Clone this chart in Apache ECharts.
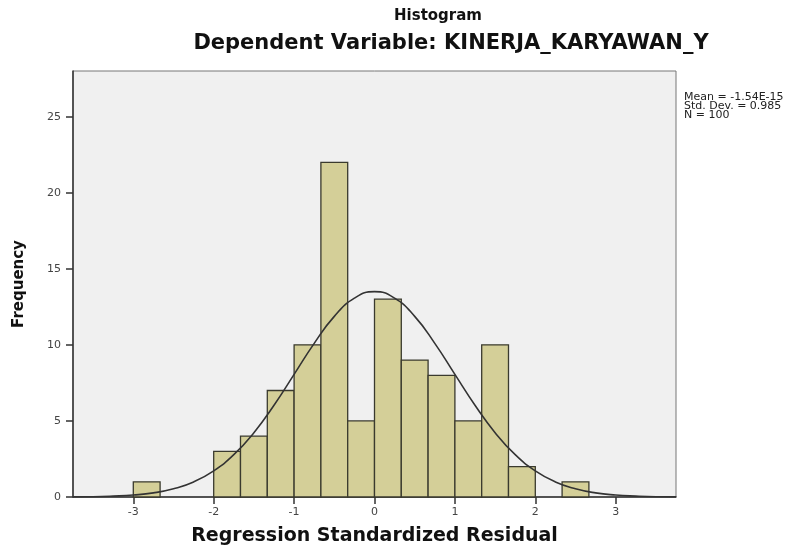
<!DOCTYPE html>
<html>
<head>
<meta charset="utf-8">
<script src="https://cdn.jsdelivr.net/npm/echarts@6/dist/echarts.min.js"></script>
<style>
  html, body { margin: 0; padding: 0; background: #fff; }
  #chart { width: 811px; height: 547px; }
</style>
</head>
<body>
<div id="chart"></div>
<script>
// histogram bins (left edge of each bin, width 1/3)
const binStarts = [-3, -2, -1.6667, -1.3333, -1, -0.6667, -0.3333, 0, 0.3333, 0.6667, 1, 1.3333, 1.6667, 2.3333];
const binWidth = 0.3333;
const counts = [1, 3, 4, 7, 10, 22, 5, 13, 9, 8, 5, 10, 2, 1];

// normal curve
const curveX = [-3.75, -3.5, -3.25, -3, -2.75, -2.5, -2.25, -2, -1.75, -1.5, -1.25, -1, -0.75, -0.5, -0.25, 0,
  0.25, 0.5, 0.75, 1, 1.25, 1.5, 1.75, 2, 2.25, 2.5, 2.75, 3, 3.25, 3.5, 3.75];
const curveY = [0.01, 0.02, 0.06, 0.13, 0.27, 0.54, 0.99, 1.72, 2.78, 4.23, 6.03, 8.06, 10.1, 11.87, 13.07, 13.5,
  13.07, 11.87, 10.1, 8.06, 6.03, 4.23, 2.78, 1.72, 0.99, 0.54, 0.27, 0.13, 0.06, 0.02, 0.01];

const xTicks = [-3, -2, -1, 0, 1, 2, 3];
const yTicks = [0, 5, 10, 15, 20, 25];
const statsLines = ['Mean = -1.54E-15', 'Std. Dev. = 0.985', 'N = 100'];

const chart = echarts.init(document.getElementById('chart'));

const barData = binStarts.map((s, i) => [s, s + binWidth, counts[i]]);
const curveData = curveX.map((x, i) => [x, curveY[i]]);

const option = {
    animation: false,
    title: [
        {
            text: 'Histogram',
            left: 433, top: 4, textAlign: 'center',
            textStyle: { fontFamily: 'DejaVu Sans', fontWeight: 'bold', fontSize: 15, color: '#111' }
        },
        {
            text: 'Dependent Variable: KINERJA_KARYAWAN_Y',
            left: 446, top: 28, textAlign: 'center',
            textStyle: { fontFamily: 'DejaVu Sans', fontWeight: 'bold', fontSize: 21, color: '#111' }
        }
    ],
    graphic: [{
        type: 'text',
        left: 684, top: 92,
        style: {
            text: statsLines.join('\n'),
            fontFamily: 'DejaVu Sans', fontSize: 11, lineHeight: 9, fill: '#222'
        }
    }],
    grid: {
        left: 73, right: 135, top: 71, bottom: 50,
        outerBoundsMode: 'none',
        show: true, backgroundColor: '#f0f0f0', borderColor: '#777', borderWidth: 1
    },
    xAxis: {
        type: 'value', min: -3.75, max: 3.75,
        name: 'Regression Standardized Residual',
        nameLocation: 'middle', nameGap: 30,
        nameTextStyle: { fontFamily: 'DejaVu Sans', fontWeight: 'bold', fontSize: 19, color: '#111' },
        axisLine: { onZero: false, lineStyle: { color: '#333', width: 1.5 } },
        axisTick: { show: true, length: 7, customValues: xTicks, lineStyle: { color: '#333', width: 1.5 } },
        axisLabel: { customValues: xTicks, margin: 10, fontFamily: 'DejaVu Sans', fontSize: 11, color: '#444' },
        splitLine: { show: false }
    },
    yAxis: {
        type: 'value', min: 0, max: 28,
        name: 'Frequency',
        nameLocation: 'middle', nameGap: 46,
        nameTextStyle: { fontFamily: 'DejaVu Sans', fontWeight: 'bold', fontSize: 15, color: '#111' },
        axisLine: { show: true, onZero: false, lineStyle: { color: '#333', width: 1.5 } },
        axisTick: { show: true, length: 7, customValues: yTicks, lineStyle: { color: '#333', width: 1.5 } },
        axisLabel: { customValues: yTicks, margin: 12, fontFamily: 'DejaVu Sans', fontSize: 11, color: '#444' },
        splitLine: { show: false }
    },
    series: [
        {
            type: 'custom',
            data: barData,
            encode: { x: [0, 1], y: 2 },
            renderItem: function (params, api) {
                const p0 = api.coord([api.value(0), 0]);
                const p1 = api.coord([api.value(1), api.value(2)]);
                return {
                    type: 'rect',
                    shape: { x: p0[0], y: p1[1], width: p1[0] - p0[0], height: p0[1] - p1[1] },
                    style: { fill: '#d4cf98', stroke: '#3a3a2e', lineWidth: 1.3 }
                };
            }
        },
        {
            type: 'line',
            data: curveData,
            smooth: true,
            symbol: 'none',
            lineStyle: { color: '#333', width: 1.6 },
            z: 5
        }
    ]
};
chart.setOption(option);
</script>
</body>
</html>
